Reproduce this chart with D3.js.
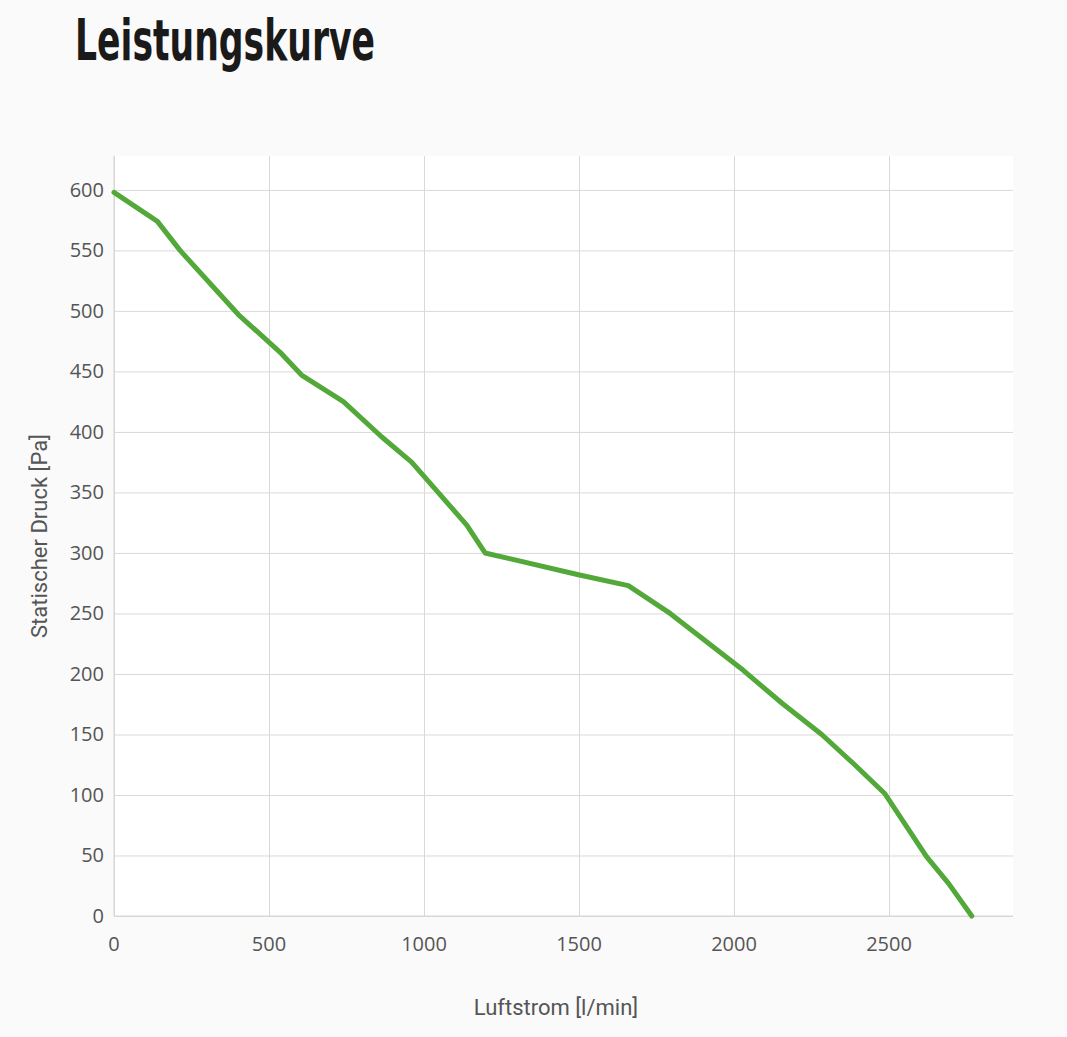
<!DOCTYPE html>
<html>
<head>
<meta charset="utf-8">
<script src="https://cdn.jsdelivr.net/npm/d3@7"></script>
<style>
  html, body { margin: 0; padding: 0; background: #fafafa; }
  svg { display: block; }
</style>
</head>
<body>
<div id="chart"></div>
<script>
// airflow [l/min] and static pressure [Pa]
var airflow  = [0, 140, 213, 401, 535, 605, 740, 863, 960, 1138, 1197, 1498, 1659, 1794, 2030, 2154, 2283, 2385, 2487, 2621, 2692, 2767];
var pressure = [598, 574, 550, 497, 466, 447, 425, 396, 375, 323, 300, 282, 273, 250, 203, 176, 150, 126, 101, 49, 27, 0];
var xTicks = [0, 500, 1000, 1500, 2000, 2500];
var yTicks = [0, 50, 100, 150, 200, 250, 300, 350, 400, 450, 500, 550, 600];

var width = 1067, height = 1037;
var svg = d3.select("#chart").append("svg")
    .attr("width", width)
    .attr("height", height);

// title
svg.append("text")
    .attr("x", 75)
    .attr("y", 60)
    .attr("font-family", "'DejaVu Sans Condensed', 'DejaVu Sans', sans-serif")
    .attr("font-weight", "bold")
    .attr("font-size", 57)
    .attr("fill", "#1a1a1a")
    .attr("textLength", 300)
    .attr("lengthAdjust", "spacingAndGlyphs")
    .text("Leistungskurve");

var x = d3.scaleLinear().domain([0, 2900]).range([114, 1013]);
var y = d3.scaleLinear().domain([0, 628]).range([916, 156]);

// plot background
svg.append("rect")
    .attr("x", x(0)).attr("y", y(628))
    .attr("width", x(2900) - x(0))
    .attr("height", y(0) - y(628))
    .attr("fill", "#fff");

// grid
svg.append("g")
    .attr("transform", "translate(0," + y(0) + ")")
    .call(d3.axisBottom(x).tickValues(xTicks).tickSize(-(y(0) - y(628))).tickFormat(""))
    .call(function(g) {
      g.select(".domain").remove();
      g.selectAll("line").attr("stroke", "#d9d9d9");
    });

svg.append("g")
    .attr("transform", "translate(" + x(0) + ",0)")
    .call(d3.axisLeft(y).tickValues(yTicks).tickSize(-(x(2900) - x(0))).tickFormat(""))
    .call(function(g) {
      g.select(".domain").remove();
      g.selectAll("line").attr("stroke", "#d9d9d9");
    });

// axis lines
svg.append("line")
    .attr("x1", x(0)).attr("x2", x(0))
    .attr("y1", y(628)).attr("y2", y(0))
    .attr("stroke", "#d6d6d6");
svg.append("line")
    .attr("x1", x(0)).attr("x2", x(2900))
    .attr("y1", y(0)).attr("y2", y(0))
    .attr("stroke", "#d6d6d6");

// tick labels
svg.append("g")
    .attr("font-family", "'Open Sans', sans-serif")
    .attr("font-size", 20)
    .attr("fill", "#555")
    .selectAll("text")
    .data(xTicks)
    .enter()
      .append("text")
      .attr("x", function(d) { return x(d); })
      .attr("y", 951)
      .attr("text-anchor", "middle")
      .text(function(d) { return d; });

svg.append("g")
    .attr("font-family", "'Open Sans', sans-serif")
    .attr("font-size", 20)
    .attr("fill", "#555")
    .selectAll("text")
    .data(yTicks)
    .enter()
      .append("text")
      .attr("x", 104)
      .attr("y", function(d) { return y(d); })
      .attr("dy", "0.35em")
      .attr("text-anchor", "end")
      .text(function(d) { return d; });

// axis titles
svg.append("text")
    .attr("x", 556)
    .attr("y", 1015)
    .attr("text-anchor", "middle")
    .attr("font-family", "Roboto, sans-serif")
    .attr("font-size", 22)
    .attr("fill", "#555")
    .text("Luftstrom [l/min]");

svg.append("text")
    .attr("transform", "translate(47,536) rotate(-90)")
    .attr("text-anchor", "middle")
    .attr("font-family", "Roboto, sans-serif")
    .attr("font-size", 22)
    .attr("fill", "#555")
    .text("Statischer Druck [Pa]");

// curve
var line = d3.line()
    .x(function(d, i) { return x(airflow[i]); })
    .y(function(d) { return y(d); });

svg.append("path")
    .datum(pressure)
    .attr("d", line)
    .attr("fill", "none")
    .attr("stroke", "#52a838")
    .attr("stroke-width", 5)
    .attr("stroke-linejoin", "round")
    .attr("stroke-linecap", "round");
</script>
</body>
</html>
